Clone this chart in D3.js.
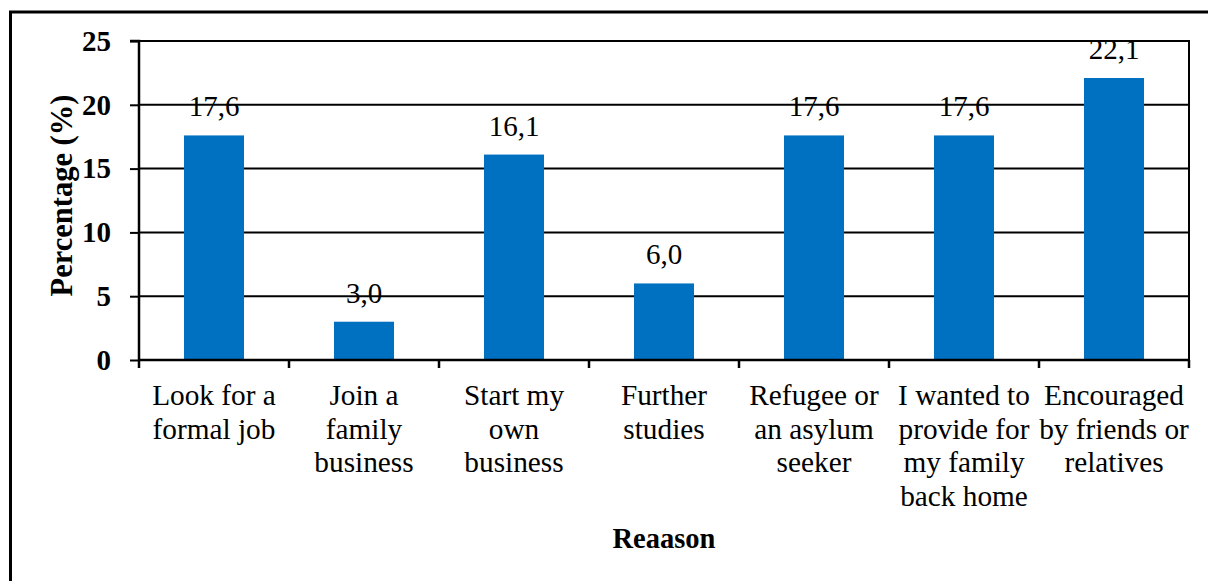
<!DOCTYPE html>
<html>
<head>
<meta charset="utf-8">
<script src="https://cdn.jsdelivr.net/npm/d3@7"></script>
<style>
  html, body { margin: 0; padding: 0; background: #fff; }
  svg { display: block; }
  text { font-family: "Liberation Serif", "Times New Roman", "DejaVu Serif", serif; fill: #000; }
</style>
</head>
<body>
<svg id="chart" width="1208" height="581"></svg>
<script>
// Reasons for migrating and share of respondents (%)
const categories = [
  ["Look for a", "formal job"],
  ["Join a", "family", "business"],
  ["Start my", "own", "business"],
  ["Further", "studies"],
  ["Refugee or", "an asylum", "seeker"],
  ["I wanted to", "provide for", "my family", "back home"],
  ["Encouraged", "by friends or", "relatives"]
];
const values = [17.6, 3.0, 16.1, 6.0, 17.6, 17.6, 22.1];
const valueLabels = ["17,6", "3,0", "16,1", "6,0", "17,6", "17,6", "22,1"];
const yTicks = [0, 5, 10, 15, 20, 25];
const yTitle = "Percentage (%)";
const xTitle = "Reaason";

const svg = d3.select("#chart");
const plot = { left: 139, right: 1189, top: 41, bottom: 360 };
const ids = categories.map((c, i) => i);

const x = d3.scaleBand().domain(ids).range([plot.left, plot.right]).paddingInner(0).paddingOuter(0);
const y = d3.scaleLinear().domain([0, 25]).range([plot.bottom, plot.top]);

// outer frame (runs past the canvas on the right and bottom)
svg.append("path")
  .attr("d", "M10.5,600 L10.5,12 L1220,12")
  .attr("fill", "none").attr("stroke", "#000").attr("stroke-width", 3);

// horizontal gridlines
svg.append("g").selectAll("line").data(yTicks.filter(t => t > 0)).join("line")
  .attr("x1", plot.left).attr("x2", plot.right)
  .attr("y1", d => y(d)).attr("y2", d => y(d))
  .attr("stroke", "#000").attr("stroke-width", 2);

// right border of the plot area
svg.append("line")
  .attr("x1", plot.right).attr("x2", plot.right)
  .attr("y1", plot.top - 1).attr("y2", plot.bottom)
  .attr("stroke", "#000").attr("stroke-width", 2);

// bars
const barW = x.bandwidth() * 0.4;
svg.append("g").selectAll("rect").data(values).join("rect")
  .attr("x", (d, i) => x(i) + (x.bandwidth() - barW) / 2)
  .attr("width", barW)
  .attr("y", d => y(d))
  .attr("height", d => y(0) - y(d))
  .attr("fill", "#0070C0");

// value labels
svg.append("g").selectAll("text").data(values).join("text")
  .attr("x", (d, i) => x(i) + x.bandwidth() / 2)
  .attr("y", d => y(d) - 19)
  .attr("text-anchor", "middle")
  .attr("font-size", 29)
  .text((d, i) => valueLabels[i]);

// y axis
const yAxis = d3.axisLeft(y).tickValues(yTicks).tickSize(9).tickPadding(19).tickFormat(d3.format("d"));
const gy = svg.append("g").attr("transform", `translate(${plot.left},0)`).call(yAxis);
gy.select(".domain").attr("stroke", "#000").attr("stroke-width", 2.5).attr("d", `M-9,${plot.top}H0V${plot.bottom}`);
gy.selectAll(".tick line").attr("stroke", "#000").attr("stroke-width", 2);
gy.selectAll(".tick text")
  .attr("font-size", 29).attr("font-weight", "bold").attr("fill", "#000");

// x axis: baseline and category boundary ticks
const boundaries = ids.map(i => x(i)).concat([plot.right]);
svg.append("line")
  .attr("x1", plot.left).attr("x2", plot.right)
  .attr("y1", plot.bottom).attr("y2", plot.bottom)
  .attr("stroke", "#000").attr("stroke-width", 2.5);
svg.append("g").selectAll("line").data(boundaries).join("line")
  .attr("x1", d => d).attr("x2", d => d)
  .attr("y1", plot.bottom).attr("y2", plot.bottom + 8)
  .attr("stroke", "#000").attr("stroke-width", 2.5);

// category labels
const catG = svg.append("g").selectAll("text").data(categories).join("text")
  .attr("text-anchor", "middle")
  .attr("font-size", 29.3);
catG.each(function(lines, i) {
  d3.select(this).selectAll("tspan").data(lines).join("tspan")
    .attr("x", x(i) + x.bandwidth() / 2)
    .attr("y", (d, k) => 405 + k * 33.5)
    .text(d => d);
});

// axis titles
svg.append("text")
  .attr("transform", `translate(72,${(plot.top + plot.bottom) / 2 - 5}) rotate(-90)`)
  .attr("text-anchor", "middle")
  .attr("font-size", 30.5).attr("font-weight", "bold")
  .text(yTitle);

svg.append("text")
  .attr("x", (plot.left + plot.right) / 2)
  .attr("y", 548)
  .attr("text-anchor", "middle")
  .attr("font-size", 28.5).attr("font-weight", "bold")
  .text(xTitle);
</script>
</body>
</html>
